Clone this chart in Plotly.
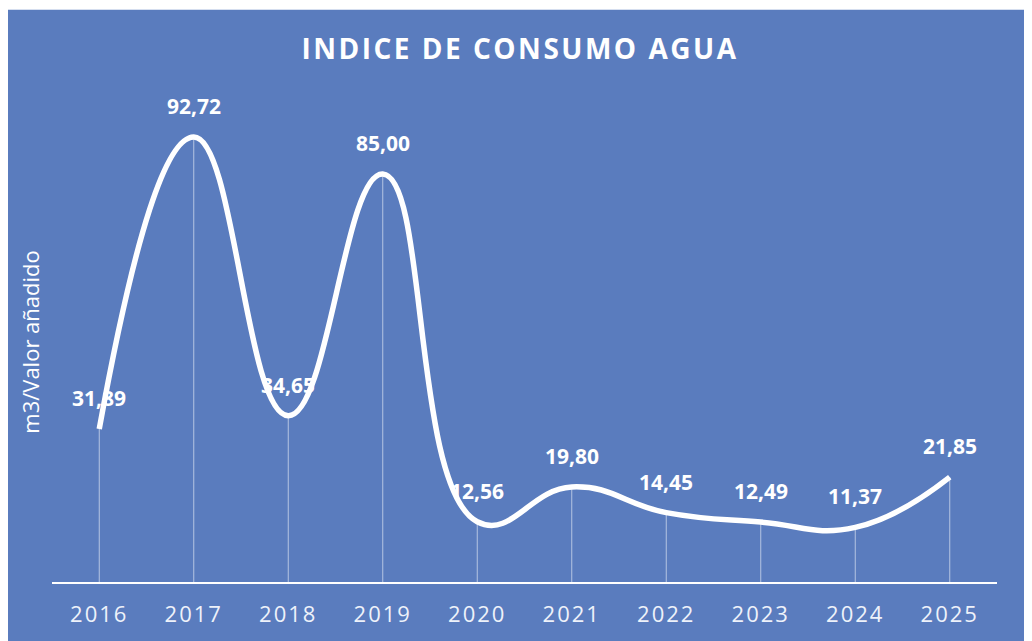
import plotly.graph_objects as go

years = [2016, 2017, 2018, 2019, 2020, 2021, 2022, 2023, 2024, 2025]
consumo = [31.89, 92.72, 34.65, 85.00, 12.56, 19.80, 14.45, 12.49, 11.37, 21.85]
etiquetas = ['31,89', '92,72', '34,65', '85,00', '12,56', '19,80', '14,45', '12,49', '11,37', '21,85']

azul = '#5A7CBE'

fig = go.Figure()

# linea suavizada con lineas verticales hasta el eje
fig.add_trace(go.Scatter(
    x=years,
    y=consumo,
    mode='lines',
    line=dict(color='white', width=5.5, shape='spline', smoothing=1.3),
    error_y=dict(
        type='data',
        symmetric=False,
        array=[0] * len(consumo),
        arrayminus=consumo,
        width=0,
        thickness=1,
        color='rgba(255,255,255,0.55)'
    ),
    hoverinfo='skip'
))

for x, y, t in zip(years, consumo, etiquetas):
    fig.add_annotation(
        x=x, y=y, text='<b>' + t + '</b>', showarrow=False, yshift=31,
        font=dict(family='Open Sans', size=21, color='white')
    )

ticks = ['<span style="letter-spacing:2px">%d</span>' % y for y in years]

fig.update_layout(
    width=1024,
    height=633,
    paper_bgcolor=azul,
    plot_bgcolor=azul,
    margin=dict(l=44, r=35, t=94, b=59),
    showlegend=False,
    title=dict(
        text='<span style="letter-spacing:2.5px"><b>INDICE DE CONSUMO AGUA</b></span>',
        x=0.5, xanchor='center', y=0.935, yanchor='middle',
        font=dict(family='Open Sans', size=28, color='white')
    ),
    xaxis=dict(
        range=[2015.5, 2025.5],
        tickvals=years,
        ticktext=ticks,
        showgrid=False,
        showline=True,
        linecolor='white',
        linewidth=2,
        ticks='',
        ticklabelstandoff=12,
        tickfont=dict(family='Open Sans', size=22, color='#EEF2FA'),
        zeroline=False
    ),
    yaxis=dict(
        range=[0, 100],
        showgrid=False,
        showticklabels=False,
        zeroline=False,
        title=dict(text='m3/Valor añadido', standoff=5,
                   font=dict(family='Open Sans', size=22, color='white'))
    ),
    shapes=[
        dict(type='rect', xref='paper', yref='paper', x0=-0.06, x1=1.1, y0=1.192, y1=1.25,
             fillcolor='white', line_width=0, layer='below'),
    ]
)

fig.write_html('out.html')
